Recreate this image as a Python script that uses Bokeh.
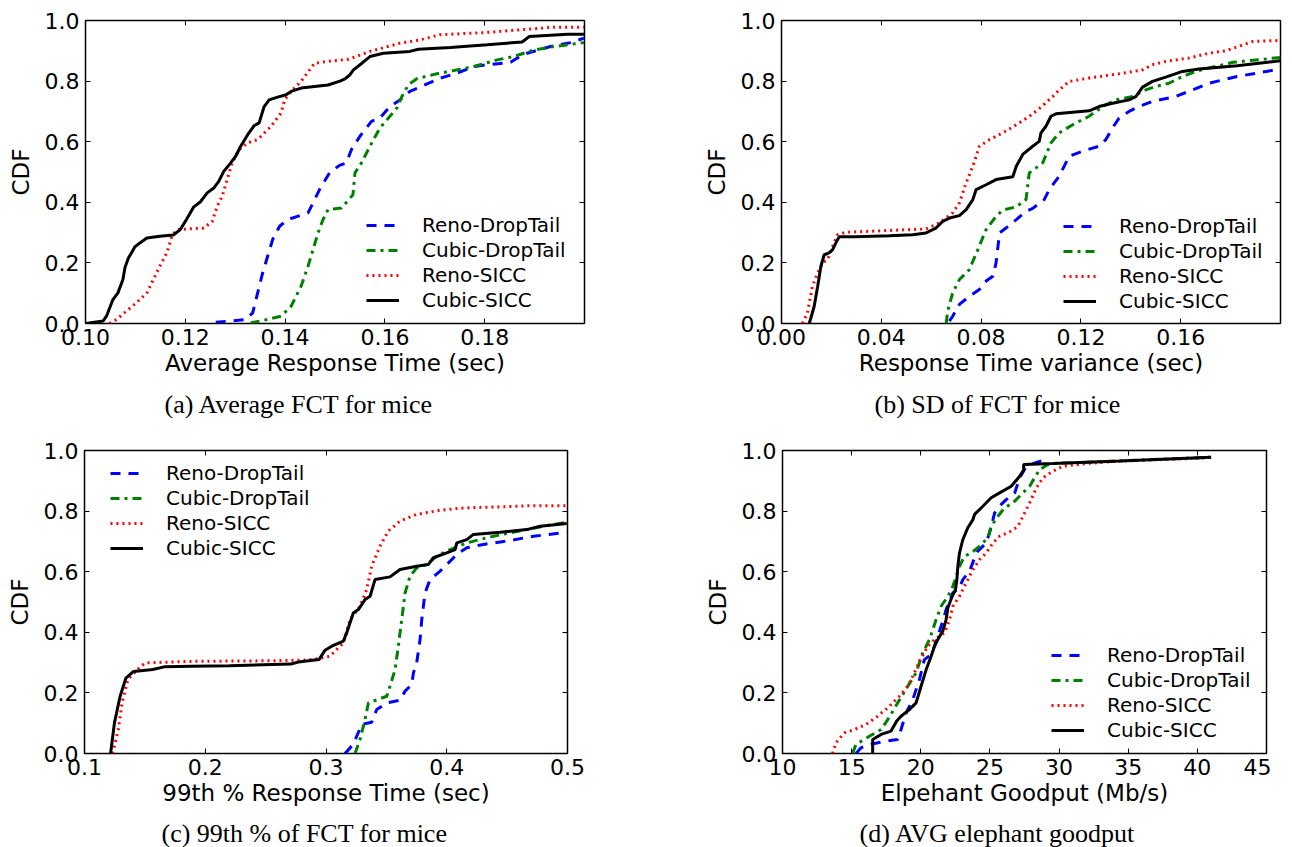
from bokeh.plotting import figure
from bokeh.models import Range1d, FixedTicker, LinearAxis, Legend, LegendItem, Title
from bokeh.layouts import row, column
from bokeh.embed import file_html
from bokeh.resources import INLINE

# ---------------- data ----------------
series_names = ["Reno-DropTail", "Cubic-DropTail", "Reno-SICC", "Cubic-SICC"]
series_colors = ["#0000ff", "#008000", "#ff0000", "#000000"]
series_dashes = ["10 8", "9 5 3 5", "2 4", "solid"]

y_ticks = [0.0, 0.2, 0.4, 0.6, 0.8, 1.0]
y_tick_labels = ["0.0", "0.2", "0.4", "0.6", "0.8", "1.0"]

# (a) Average FCT for mice
a_x_ticks = [0.10, 0.12, 0.14, 0.16, 0.18]
a_x_tick_labels = ["0.10", "0.12", "0.14", "0.16", "0.18"]
a_reno_dt_x = [0.1261, 0.1321, 0.1335, 0.1345, 0.1355, 0.1365, 0.1375, 0.1389, 0.1405, 0.1446, 0.1469, 0.1489,
               0.1509, 0.1523, 0.1533, 0.1550, 0.1573, 0.1590, 0.1610, 0.1630, 0.1650, 0.1670, 0.1711, 0.1744,
               0.1778, 0.1805, 0.1852, 0.1865, 0.1885, 0.1932, 0.1972, 0.1999]
a_reno_dt_y = [0.004, 0.013, 0.035, 0.101, 0.167, 0.222, 0.277, 0.321, 0.343, 0.365, 0.442, 0.497,
               0.522, 0.530, 0.574, 0.618, 0.667, 0.678, 0.716, 0.738, 0.766, 0.780, 0.810, 0.826,
               0.848, 0.854, 0.862, 0.876, 0.892, 0.914, 0.927, 0.942]
a_cubic_dt_x = [0.1331, 0.1358, 0.1392, 0.1412, 0.1432, 0.1446, 0.1456, 0.1466, 0.1476, 0.1486, 0.1513, 0.1536,
                0.1540, 0.1553, 0.1570, 0.1590, 0.1607, 0.1624, 0.1634, 0.1647, 0.1664, 0.1704, 0.1738, 0.1778,
                0.1825, 0.1858, 0.1899, 0.1939, 0.1999]
a_cubic_dt_y = [0.002, 0.011, 0.024, 0.057, 0.123, 0.189, 0.244, 0.299, 0.343, 0.376, 0.381, 0.425,
                0.497, 0.530, 0.585, 0.645, 0.678, 0.711, 0.749, 0.788, 0.808, 0.824, 0.835, 0.848,
                0.870, 0.881, 0.903, 0.914, 0.927]
a_reno_sicc_x = [0.1048, 0.1062, 0.1082, 0.1102, 0.1123, 0.1136, 0.1149, 0.1163, 0.1173, 0.1183, 0.1203, 0.1237,
                 0.1254, 0.1264, 0.1274, 0.1284, 0.1294, 0.1308, 0.1325, 0.1345, 0.1372, 0.1392, 0.1399, 0.1412,
                 0.1432, 0.1459, 0.1486, 0.1527, 0.1570, 0.1630, 0.1670, 0.1710, 0.1798, 0.1885, 0.1939, 0.1999]
a_reno_sicc_y = [0.000, 0.013, 0.041, 0.068, 0.101, 0.145, 0.189, 0.233, 0.288, 0.310, 0.312, 0.315,
                 0.337, 0.387, 0.420, 0.475, 0.530, 0.574, 0.596, 0.607, 0.651, 0.695, 0.738, 0.766,
                 0.799, 0.859, 0.865, 0.872, 0.898, 0.925, 0.936, 0.953, 0.960, 0.971, 0.978, 0.978]
a_cubic_sicc_x = [0.1001, 0.1035, 0.1042, 0.1055, 0.1065, 0.1075, 0.1079, 0.1086, 0.1092, 0.1099, 0.1109, 0.1123,
                  0.1149, 0.1176, 0.1190, 0.1200, 0.1217, 0.1230, 0.1244, 0.1257, 0.1267, 0.1277, 0.1291, 0.1301,
                  0.1311, 0.1325, 0.1338, 0.1348, 0.1358, 0.1368, 0.1385, 0.1402, 0.1412, 0.1432, 0.1486, 0.1510,
                  0.1520, 0.1530, 0.1537, 0.1554, 0.1570, 0.1597, 0.1650, 0.1667, 0.1731, 0.1805, 0.1875, 0.1889,
                  0.1966, 0.1999]
a_cubic_sicc_y = [0.000, 0.008, 0.024, 0.079, 0.101, 0.145, 0.184, 0.216, 0.233, 0.253, 0.266, 0.282,
                  0.288, 0.292, 0.310, 0.337, 0.385, 0.401, 0.431, 0.447, 0.469, 0.502, 0.530, 0.552,
                  0.585, 0.623, 0.653, 0.662, 0.716, 0.738, 0.747, 0.755, 0.766, 0.777, 0.787, 0.800,
                  0.807, 0.821, 0.837, 0.859, 0.881, 0.892, 0.898, 0.905, 0.911, 0.920, 0.929, 0.947,
                  0.955, 0.955]

# (b) SD of FCT for mice
b_x_ticks = [0.00, 0.04, 0.08, 0.12, 0.16]
b_x_tick_labels = ["0.00", "0.04", "0.08", "0.12", "0.16"]
b_reno_dt_x = [0.0673, 0.0686, 0.0713, 0.0753, 0.0793, 0.0820, 0.0847, 0.0860, 0.0874, 0.0900, 0.0941, 0.0980,
               0.1007, 0.1053, 0.1073, 0.1113, 0.1153, 0.1207, 0.1273, 0.1300, 0.1327, 0.1353, 0.1393, 0.1433,
               0.1487, 0.1580, 0.1647, 0.1713, 0.1826, 0.2000]
b_reno_dt_y = [0.008, 0.024, 0.063, 0.090, 0.112, 0.140, 0.156, 0.200, 0.299, 0.315, 0.343, 0.370,
               0.380, 0.409, 0.442, 0.486, 0.552, 0.569, 0.585, 0.607, 0.646, 0.678, 0.700, 0.716,
               0.733, 0.749, 0.771, 0.793, 0.815, 0.840]
b_cubic_dt_x = [0.0660, 0.0666, 0.0686, 0.0713, 0.0753, 0.0787, 0.0820, 0.0860, 0.0887, 0.0941, 0.0980, 0.0993,
                0.1047, 0.1080, 0.1113, 0.1167, 0.1233, 0.1287, 0.1340, 0.1407, 0.1460, 0.1500, 0.1553, 0.1607,
                0.1660, 0.1713, 0.1810, 0.2000]
b_cubic_dt_y = [0.000, 0.041, 0.101, 0.145, 0.178, 0.244, 0.310, 0.354, 0.374, 0.385, 0.409, 0.497,
                0.530, 0.596, 0.629, 0.656, 0.684, 0.716, 0.738, 0.749, 0.771, 0.782, 0.793, 0.815,
                0.832, 0.843, 0.862, 0.878]
b_reno_sicc_x = [0.0084, 0.0104, 0.0124, 0.0145, 0.0165, 0.0185, 0.0205, 0.0225, 0.0258, 0.0432, 0.0579, 0.0633,
                 0.0686, 0.0713, 0.0740, 0.0767, 0.0793, 0.0834, 0.0887, 0.0941, 0.0994, 0.1034, 0.1087, 0.1113,
                 0.1153, 0.1233, 0.1367, 0.1447, 0.1487, 0.1540, 0.1633, 0.1713, 0.1780, 0.1830, 0.1890, 0.2000]
b_reno_sicc_y = [0.000, 0.035, 0.123, 0.167, 0.200, 0.211, 0.255, 0.293, 0.301, 0.307, 0.312, 0.332,
                 0.365, 0.398, 0.464, 0.519, 0.585, 0.607, 0.629, 0.656, 0.684, 0.710, 0.749, 0.771,
                 0.799, 0.810, 0.826, 0.837, 0.854, 0.865, 0.876, 0.892, 0.900, 0.914, 0.931, 0.934]
b_cubic_sicc_x = [0.0111, 0.0118, 0.0131, 0.0145, 0.0158, 0.0171, 0.0191, 0.0205, 0.0218, 0.0231, 0.0298, 0.0432,
                  0.0526, 0.0579, 0.0619, 0.0646, 0.0673, 0.0713, 0.0740, 0.0767, 0.0780, 0.0820, 0.0860, 0.0927,
                  0.0941, 0.0967, 0.1007, 0.1033, 0.1040, 0.1060, 0.1080, 0.1100, 0.1167, 0.1233, 0.1273, 0.1327,
                  0.1393, 0.1420, 0.1447, 0.1487, 0.1540, 0.1607, 0.1673, 0.1826, 0.2000]
b_cubic_sicc_y = [0.000, 0.019, 0.057, 0.123, 0.189, 0.227, 0.233, 0.244, 0.266, 0.286, 0.286, 0.290,
                  0.293, 0.299, 0.315, 0.337, 0.348, 0.356, 0.376, 0.409, 0.442, 0.458, 0.475, 0.484,
                  0.519, 0.558, 0.585, 0.601, 0.629, 0.651, 0.684, 0.692, 0.697, 0.702, 0.716, 0.727,
                  0.738, 0.749, 0.780, 0.799, 0.813, 0.832, 0.840, 0.851, 0.867]

# (c) 99th % of FCT for mice
c_x_ticks = [0.1, 0.2, 0.3, 0.4, 0.5]
c_x_tick_labels = ["0.1", "0.2", "0.3", "0.4", "0.5"]
c_reno_dt_x = [0.3157, 0.3226, 0.3296, 0.3378, 0.3420, 0.3503, 0.3613, 0.3655, 0.3710, 0.3724, 0.3751, 0.3779,
               0.3793, 0.3820, 0.3862, 0.3945, 0.4014, 0.4083, 0.4166, 0.4304, 0.4497, 0.4718, 0.4994]
c_reno_dt_y = [0.000, 0.030, 0.096, 0.103, 0.145, 0.167, 0.176, 0.206, 0.228, 0.266, 0.299, 0.376,
               0.442, 0.530, 0.574, 0.602, 0.629, 0.657, 0.679, 0.690, 0.701, 0.717, 0.730]
c_cubic_dt_x = [0.3240, 0.3282, 0.3323, 0.3351, 0.3503, 0.3530, 0.3572, 0.3599, 0.3627, 0.3655, 0.3696, 0.3751,
                0.3834, 0.3917, 0.4027, 0.4166, 0.4331, 0.4497, 0.4663, 0.4828, 0.4994]
c_cubic_dt_y = [0.000, 0.046, 0.112, 0.167, 0.189, 0.222, 0.277, 0.354, 0.442, 0.530, 0.585, 0.613,
                0.624, 0.651, 0.673, 0.695, 0.712, 0.726, 0.739, 0.752, 0.763]
c_reno_sicc_x = [0.1232, 0.1280, 0.1311, 0.1359, 0.1438, 0.1502, 0.1883, 0.2517, 0.2812, 0.2923, 0.3033, 0.3144,
                 0.3199, 0.3282, 0.3337, 0.3378, 0.3447, 0.3516, 0.3613, 0.3751, 0.3945, 0.4166, 0.4442, 0.4718,
                 0.4994]
c_reno_sicc_y = [0.000, 0.079, 0.167, 0.244, 0.277, 0.299, 0.304, 0.306, 0.308, 0.312, 0.321, 0.365,
                 0.442, 0.486, 0.541, 0.618, 0.684, 0.734, 0.767, 0.789, 0.803, 0.811, 0.814, 0.818,
                 0.818]
c_cubic_sicc_x = [0.1216, 0.1248, 0.1295, 0.1343, 0.1406, 0.1565, 0.1660, 0.1883, 0.2200, 0.2708, 0.2771, 0.2942,
                  0.2992, 0.3047, 0.3144, 0.3171, 0.3226, 0.3268, 0.3323, 0.3365, 0.3406, 0.3530, 0.3613, 0.3751,
                  0.3848, 0.3889, 0.4000, 0.4069, 0.4083, 0.4166, 0.4221, 0.4442, 0.4663, 0.4773, 0.4994]
c_cubic_sicc_y = [0.000, 0.101, 0.189, 0.249, 0.271, 0.277, 0.286, 0.288, 0.290, 0.295, 0.302, 0.310,
                  0.341, 0.354, 0.371, 0.398, 0.464, 0.475, 0.508, 0.519, 0.574, 0.583, 0.607, 0.618,
                  0.624, 0.646, 0.662, 0.673, 0.695, 0.706, 0.723, 0.730, 0.739, 0.750, 0.759]

# (d) AVG elephant goodput
d_x_ticks = [10, 15, 20, 25, 30, 35, 40, 45]
d_x_tick_labels = ["10", "15", "20", "25", "30", "35", "40", "45"]
d_reno_dt_x = [15.31, 15.68, 16.64, 17.49, 18.33, 18.57, 18.94, 19.42, 19.90, 20.26, 20.75, 20.99,
               21.23, 21.59, 21.83, 22.32, 22.80, 23.04, 23.53, 23.89, 24.13, 24.73, 24.97, 25.22,
               25.34, 25.82, 26.18, 26.79, 27.15, 27.63, 28.36, 29.20]
d_reno_dt_y = [0.000, 0.019, 0.033, 0.041, 0.046, 0.079, 0.134, 0.178, 0.244, 0.310, 0.327, 0.354,
               0.387, 0.437, 0.475, 0.530, 0.547, 0.574, 0.602, 0.646, 0.668, 0.695, 0.728, 0.772,
               0.794, 0.822, 0.838, 0.860, 0.910, 0.948, 0.961, 0.972]
d_cubic_dt_x = [15.07, 15.31, 16.28, 17.13, 17.61, 18.33, 19.06, 19.66, 20.14, 20.63, 21.11, 21.47,
                21.96, 22.32, 22.56, 22.80, 23.16, 23.65, 24.25, 24.85, 25.09, 25.58, 26.06, 26.66,
                27.27, 27.87, 28.23, 28.60, 29.32, 31.98, 41.00]
d_cubic_dt_y = [0.000, 0.030, 0.057, 0.079, 0.112, 0.167, 0.222, 0.266, 0.332, 0.376, 0.442, 0.486,
                0.519, 0.552, 0.585, 0.618, 0.651, 0.662, 0.684, 0.712, 0.750, 0.783, 0.811, 0.827,
                0.855, 0.882, 0.910, 0.937, 0.957, 0.961, 0.978]
d_reno_sicc_x = [13.62, 13.86, 14.47, 15.19, 16.04, 16.88, 17.73, 18.45, 19.06, 19.54, 19.90, 20.51,
                 20.99, 21.71, 22.08, 22.32, 22.80, 23.28, 23.77, 24.25, 24.73, 25.22, 25.70, 26.54,
                 27.03, 27.39, 27.87, 28.36, 28.84, 29.56, 30.29, 31.98, 34.39, 40.50]
d_reno_sicc_y = [0.000, 0.035, 0.068, 0.079, 0.096, 0.123, 0.156, 0.189, 0.222, 0.266, 0.305, 0.354,
                 0.376, 0.398, 0.442, 0.486, 0.519, 0.563, 0.607, 0.640, 0.662, 0.695, 0.717, 0.734,
                 0.750, 0.783, 0.827, 0.877, 0.910, 0.932, 0.948, 0.957, 0.965, 0.975]
d_cubic_sicc_x = [16.52, 16.52, 17.13, 17.85, 18.26, 18.57, 19.13, 19.66, 20.02, 20.39, 20.75, 20.99,
                  21.23, 21.59, 21.83, 21.96, 22.27, 22.51, 22.61, 22.68, 22.80, 23.04, 23.40, 23.77,
                  23.89, 24.49, 25.09, 25.70, 26.54, 27.15, 27.44, 27.44, 29.56, 34.39, 41.00]
d_cubic_sicc_y = [0.000, 0.046, 0.063, 0.074, 0.107, 0.123, 0.143, 0.167, 0.222, 0.277, 0.321, 0.354,
                  0.376, 0.404, 0.442, 0.481, 0.519, 0.541, 0.574, 0.618, 0.662, 0.706, 0.745, 0.772,
                  0.789, 0.816, 0.844, 0.860, 0.882, 0.915, 0.935, 0.954, 0.957, 0.965, 0.978]

# ---------------- styling ----------------
SANS = "DejaVu Sans"
SERIF = "Liberation Serif"


def make_panel(x_start, x_end, x_ticks, x_labels, x_title, caption, caption_offset, caption_standoff,
               series, legend_xy, frame_w, border_l, border_r, border_t, border_b):
    p = figure(frame_width=frame_w, frame_height=303,
               min_border_left=border_l, min_border_right=border_r,
               min_border_top=border_t, min_border_bottom=border_b,
               x_range=Range1d(x_start, x_end), y_range=Range1d(0, 1),
               output_backend="svg", toolbar_location=None,
               x_axis_label=x_title, y_axis_label="CDF")
    p.grid.visible = False
    p.outline_line_color = "black"
    p.outline_line_width = 1.5
    p.outline_line_alpha = 1.0
    p.background_fill_color = "white"
    p.border_fill_color = "white"

    p.xaxis.ticker = FixedTicker(ticks=x_ticks)
    p.xaxis.major_label_overrides = {t: l for t, l in zip(x_ticks, x_labels)}
    p.yaxis.ticker = FixedTicker(ticks=y_ticks)
    p.yaxis.major_label_overrides = {t: l for t, l in zip(y_ticks, y_tick_labels)}
    for ax in (p.xaxis[0], p.yaxis[0]):
        ax.axis_line_color = None
        ax.major_tick_in = 5
        ax.major_tick_out = 0
        ax.major_tick_line_color = "black"
        ax.minor_tick_line_color = None
        ax.major_label_text_font = SANS
        ax.major_label_text_font_size = "22px"
        ax.major_label_text_color = "black"
        ax.axis_label_text_font = SANS
        ax.axis_label_text_font_size = "23px"
        ax.axis_label_text_font_style = "normal"
        ax.axis_label_text_color = "black"
    p.xaxis.major_label_standoff = 5
    p.xaxis.axis_label_standoff = 2
    p.yaxis.major_label_standoff = 6
    p.yaxis.axis_label_standoff = 8

    # mirrored ticks on top and right (no labels)
    top = LinearAxis(ticker=FixedTicker(ticks=x_ticks))
    right = LinearAxis(ticker=FixedTicker(ticks=y_ticks))
    for ax in (top, right):
        ax.axis_line_color = None
        ax.major_tick_in = 5
        ax.major_tick_out = 0
        ax.major_tick_line_color = "black"
        ax.minor_tick_line_color = None
        ax.major_label_text_color = None
        ax.major_label_text_font_size = "1px"
        ax.major_label_standoff = 0
    p.add_layout(top, "above")
    p.add_layout(right, "right")

    items = []
    for (xs, ys), name, col, dash in zip(series, series_names, series_colors, series_dashes):
        r = p.line(xs, ys, line_color=col, line_width=3, line_dash=dash)
        items.append(LegendItem(label=name, renderers=[r]))
    leg = Legend(items=items, location=legend_xy, border_line_color=None,
                 background_fill_alpha=0, padding=0, margin=0, spacing=1,
                 glyph_width=33, glyph_height=24, label_height=24, label_standoff=23,
                 label_text_font=SANS, label_text_font_size="20px", label_text_color="black")
    p.add_layout(leg)

    cap = Title(text=caption, align="left", offset=caption_offset, text_font=SERIF,
                text_font_size="26px", text_font_style="normal", text_color="black",
                standoff=caption_standoff)
    p.add_layout(cap, "below")
    return p


pa = make_panel(0.10, 0.20, a_x_ticks, a_x_tick_labels, "Average Response Time (sec)",
                "(a) Average FCT for mice", 79, 18,
                [(a_reno_dt_x, a_reno_dt_y), (a_cubic_dt_x, a_cubic_dt_y),
                 (a_reno_sicc_x, a_reno_sicc_y), (a_cubic_sicc_x, a_cubic_sicc_y)],
                (281, 11), 499, 85, 20, 20, 107)
pb = make_panel(0.0, 0.20, b_x_ticks, b_x_tick_labels, "Response Time variance (sec)",
                "(b) SD of FCT for mice", 93, 18,
                [(b_reno_dt_x, b_reno_dt_y), (b_cubic_dt_x, b_cubic_dt_y),
                 (b_reno_sicc_x, b_reno_sicc_y), (b_cubic_sicc_x, b_cubic_sicc_y)],
                (282, 10), 499, 177, 5, 20, 107)
pc = make_panel(0.1, 0.5, c_x_ticks, c_x_tick_labels, "99th % Response Time (sec)",
                "(c) 99th % of FCT for mice", 77, 16,
                [(c_reno_dt_x, c_reno_dt_y), (c_cubic_dt_x, c_cubic_dt_y),
                 (c_reno_sicc_x, c_reno_sicc_y), (c_cubic_sicc_x, c_cubic_sicc_y)],
                (26, 193), 483, 84, 37, 20, 88)
pd_ = make_panel(10, 45, d_x_ticks, d_x_tick_labels, "Elpehant Goodput (Mb/s)",
                 "(d) AVG elephant goodput", 77, 16,
                 [(d_reno_dt_x, d_reno_dt_y), (d_cubic_dt_x, d_cubic_dt_y),
                  (d_reno_sicc_x, d_reno_sicc_y), (d_cubic_sicc_x, d_cubic_sicc_y)],
                 (269, 11), 484, 178, 5, 20, 88)

layout = column(row(pa, pb), row(pc, pd_))
open("out.html", "w").write(file_html(layout, INLINE))
